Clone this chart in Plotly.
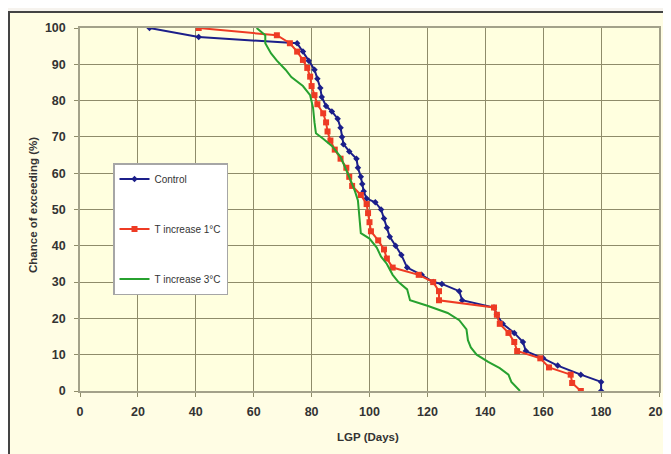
import plotly.graph_objects as go

# ---- data ----
control_x = [24, 41, 75, 77, 79, 81, 82, 83, 83.5, 85, 87, 89, 90, 90.5, 91, 93, 95.5, 96, 97, 97.5,
             98, 99, 102, 104, 105, 106, 107, 109, 111, 113, 118, 122, 125, 131, 132, 143, 144, 146,
             150, 153, 154, 160, 165, 173, 180, 180]
control_y = [100, 97.5, 95.8, 93.5, 91, 88.5, 86, 83.5, 81, 78.5, 77, 75, 72.5, 70, 68, 66, 64, 61.5,
             59, 57, 55, 53, 52, 50, 47.5, 45, 42.5, 40, 37.5, 34, 32, 30, 29.5, 27.5, 25, 23, 21,
             18.5, 16, 13.5, 11, 9, 7, 4.5, 2.5, 0]

t1_x = [41, 68, 72.5, 75, 77, 78.5, 79.5, 80, 81, 82, 84, 85, 85.5, 86.5, 88, 90, 92, 93, 94, 97,
        99, 99.5, 100, 100.5, 103, 105, 106, 108, 117, 122, 124, 124, 143, 144, 145, 148, 150, 151,
        159, 162, 169.5, 170, 173]
t1_y = [100, 98, 95.8, 93.5, 91.2, 89, 86.6, 84, 81.5, 79, 76.5, 74, 71.5, 69, 66.5, 64, 61.5, 59,
        56.5, 54, 51.5, 49, 46.5, 44, 41.5, 39, 36.5, 34, 32, 30, 27.5, 25, 23, 21, 18.5, 16, 13.5,
        11, 9, 6.5, 4.5, 2.2, 0]

t3_x = [61, 64, 64, 66, 68, 71, 73, 77, 79.5, 80.5, 81, 81.5, 84, 87, 90, 92, 93.5, 95, 96, 96.5,
        97, 100, 102.5, 104, 106, 108, 110, 113, 114, 120, 127, 131, 133.5, 134, 135, 137, 141,
        145, 148, 149, 152]
t3_y = [100, 98, 95.8, 93, 91, 88.5, 86.5, 84, 81.5, 78, 74, 71, 69.5, 67.5, 64.5, 61, 58, 55, 52.5,
        48, 43.5, 42, 39.5, 37, 35, 32, 30, 28, 25, 23.5, 21.5, 19.5, 17, 14, 12, 10, 8, 6.3, 4.5,
        2.5, 0]

x_ticks = [0, 20, 40, 60, 80, 100, 120, 140, 160, 180, 200]
y_ticks = [0, 10, 20, 30, 40, 50, 60, 70, 80, 90, 100]

names = ["Control", "T increase 1°C", "T increase 3°C"]
colors = ["#1c1f8a", "#ee3b24", "#27a12f"]
x_title = "LGP (Days)"
y_title = "Chance of exceeding (%)"

fig = go.Figure()
fig.add_trace(go.Scatter(x=control_x, y=control_y, name=names[0], mode="lines+markers",
                         line=dict(color=colors[0], width=2),
                         marker=dict(symbol="diamond", size=5, color=colors[0]),
                         legendgroup="a"))
fig.add_trace(go.Scatter(x=t1_x, y=t1_y, name=names[1], mode="lines+markers",
                         line=dict(color=colors[1], width=2),
                         marker=dict(symbol="square", size=6, color=colors[1]),
                         legendgroup="b"))
fig.add_trace(go.Scatter(x=t3_x, y=t3_y, name=names[2], mode="lines",
                         line=dict(color=colors[2], width=2),
                         legendgroup="c"))

# page is offset by the browser's 8px body margin
OFF = 8
W, H = 671, 454
PLOT_L, PLOT_R, PLOT_T, PLOT_B = 80, 659, 28, 391  # page pixels
L = PLOT_L - OFF
T = PLOT_T - OFF
pw = PLOT_R - PLOT_L
ph = PLOT_B - PLOT_T
R = W - L - pw
B = H - T - ph


def px(xp):
    return (xp - PLOT_L) / pw


def py(yp):
    return (PLOT_B - yp) / ph


outer = "#f6f3ee"
frame = "#444444"
shapes = [
    dict(type="rect", xref="paper", yref="paper", x0=px(0), x1=px(W + 20), y0=py(11), y1=py(0),
         fillcolor=outer, line=dict(width=0)),
    dict(type="line", xref="paper", yref="paper", x0=px(8), x1=px(W + 20), y0=py(12), y1=py(12),
         line=dict(color=frame, width=2)),
    dict(type="line", xref="paper", yref="paper", x0=px(9), x1=px(9), y0=py(11), y1=py(H + 20),
         line=dict(color=frame, width=2)),
]

fam = "Arial, Liberation Sans, sans-serif"
axis_font = dict(family=fam, size=12.5, color="#333333")
title_font = dict(family=fam, size=11.5, color="#333333")

annotations = [
    dict(text=f"<b>{x_title}</b>", xref="paper", yref="paper", x=px(368), y=py(437),
         xanchor="center", yanchor="middle", showarrow=False, font=title_font),
    dict(text=f"<b>{y_title}</b>", xref="paper", yref="paper", x=px(33), y=py(205),
         xanchor="center", yanchor="middle", showarrow=False, font=title_font, textangle=-90),
]

fig.update_layout(
    width=W, height=H,
    margin=dict(l=L, r=R, t=T, b=B, autoexpand=False),
    paper_bgcolor="#fffde4",
    plot_bgcolor="#ffffdf",
    shapes=shapes,
    annotations=annotations,
    font=dict(family=fam, size=10, color="#333333"),
    showlegend=True,
    legend=dict(x=px(113), y=py(163), xanchor="left", yanchor="top",
                bgcolor="#ffffff", bordercolor="#a6a6a6", borderwidth=1.5,
                font=dict(family=fam, size=10, color="#333333"),
                tracegroupgap=31, itemwidth=30),
    xaxis=dict(range=[0, 200], tickvals=x_ticks, ticktext=[f"<b>{v}</b>" for v in x_ticks],
               showgrid=True, gridcolor="#8f8c6a", gridwidth=1,
               showline=True, linecolor="#a3a18a", linewidth=1.5, mirror=True,
               ticks="outside", ticklen=4, tickcolor="#8f8c6a", ticklabelstandoff=4,
               tickfont=axis_font, zeroline=False, automargin=False),
    yaxis=dict(range=[0, 100], tickvals=y_ticks, ticktext=[f"<b>{v}</b>" for v in y_ticks],
               showgrid=True, gridcolor="#8f8c6a", gridwidth=1,
               showline=True, linecolor="#a3a18a", linewidth=1.5, mirror=True,
               ticks="outside", ticklen=4, tickcolor="#8f8c6a", ticklabelstandoff=6,
               tickfont=axis_font, zeroline=False, automargin=False),
)

fig.write_html("out.html")
